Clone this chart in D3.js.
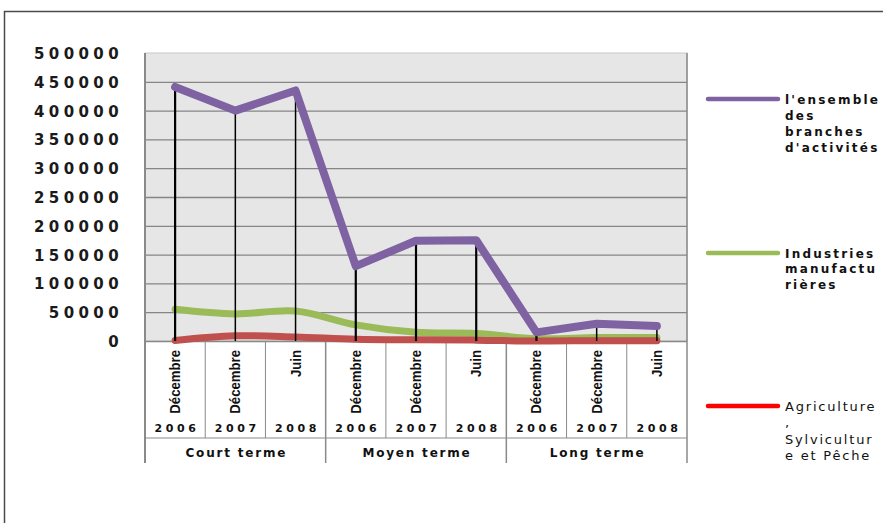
<!DOCTYPE html>
<html>
<head>
<meta charset="utf-8">
<script src="https://cdn.jsdelivr.net/npm/d3@7"></script>
<style>
  html, body { margin: 0; padding: 0; background: #fff; }
  svg { display: block; }
</style>
</head>
<body>
<svg id="chart" width="883" height="523"></svg>
<script>
// Categories: month / year / horizon
const months = ["Décembre", "Décembre", "Juin", "Décembre", "Décembre", "Juin", "Décembre", "Décembre", "Juin"];
const years = ["2006", "2007", "2008", "2006", "2007", "2008", "2006", "2007", "2008"];
const horizons = ["Court terme", "Moyen terme", "Long terme"];

// Series values
const ensemble = [441000, 400000, 435000, 130000, 174000, 175000, 15000, 30000, 26000];
const industries = [55000, 47000, 52000, 28000, 15000, 13000, 4000, 6000, 6000];
const agriculture = [1000, 9000, 7000, 3000, 2000, 1500, 0, 500, 500];

// Y tick values
const yTicks = [0, 50000, 100000, 150000, 200000, 250000, 300000, 350000, 400000, 450000, 500000];

const lowerSeries = [
  { values: industries, color: "#9bbb59", width: 7 },
  { values: agriculture, color: "#c0504d", width: 7 },
];

const svg = d3.select("#chart");
const W = 883, H = 523;
const pLeft = 145, pRight = 687, pTop = 53, pBottom = 341;

const idx = d3.range(months.length);
const x = d3.scaleBand().domain(idx).range([pLeft, pRight]);
const y = d3.scaleLinear().domain([0, 500000]).range([pBottom, pTop]);

// outer frame
svg.append("path")
  .attr("d", `M4.5,${H} V11.5 H${W}`)
  .attr("fill", "none")
  .attr("stroke", "#4a4a4a")
  .attr("stroke-width", 1.5);

// plot background
svg.append("rect")
  .attr("x", pLeft).attr("y", pTop)
  .attr("width", pRight - pLeft).attr("height", pBottom - pTop)
  .attr("fill", "#e6e6e6")
  .attr("stroke", "#c8c8c8");

// gridlines + y labels
const yAxis = d3.axisLeft(y)
  .tickValues(yTicks)
  .tickSize(-(pRight - pLeft))
  .tickPadding(0)
  .tickFormat(d3.format("d"));

const gy = svg.append("g")
  .attr("transform", `translate(${pLeft},0)`)
  .call(yAxis);
gy.select(".domain").remove();
gy.selectAll(".tick line")
  .attr("stroke", (d) => d === 500000 ? "none" : "#858585")
  .attr("stroke-width", 1.3);
gy.selectAll(".tick text")
  .attr("x", -22)
  .attr("dy", "0.36em")
  .attr("font-family", "DejaVu Sans, sans-serif")
  .attr("font-size", 15)
  .attr("font-weight", "bold")
  .attr("letter-spacing", 4.4)
  .attr("fill", "#1a1a1a");

// left / right axis lines
svg.append("line")
  .attr("x1", pLeft).attr("x2", pLeft)
  .attr("y1", pTop).attr("y2", pBottom + 122)
  .attr("stroke", "#8a8a8a").attr("stroke-width", 2);
svg.append("line")
  .attr("x1", pRight).attr("x2", pRight)
  .attr("y1", pTop).attr("y2", pBottom + 122)
  .attr("stroke", "#8a8a8a").attr("stroke-width", 1.5);

// category table separators
const bw = x.bandwidth();
idx.slice(1).forEach((i) => {
  const major = i % 3 === 0;
  svg.append("line")
    .attr("x1", x(i)).attr("x2", x(i))
    .attr("y1", pBottom).attr("y2", major ? pBottom + 122 : pBottom + 97)
    .attr("stroke", "#8a8a8a").attr("stroke-width", major ? 1.5 : 1);
});
svg.append("line")
  .attr("x1", pLeft).attr("x2", pRight)
  .attr("y1", pBottom + 0.5).attr("y2", pBottom + 0.5)
  .attr("stroke", "#8a8a8a").attr("stroke-width", 1);
svg.append("line")
  .attr("x1", pLeft).attr("x2", pRight)
  .attr("y1", pBottom + 97).attr("y2", pBottom + 97)
  .attr("stroke", "#8a8a8a").attr("stroke-width", 1);

// month labels (rotated, condensed)
svg.append("g").selectAll("text")
  .data(idx)
  .join("text")
  .attr("transform", (i) => `translate(${x(i) + bw / 2 + 5},${pBottom + 9}) rotate(-90) scale(0.85,1)`)
  .attr("text-anchor", "end")
  .attr("font-family", "Liberation Sans, Arial, sans-serif")
  .attr("font-size", 15.5)
  .attr("font-weight", "bold")
  .attr("fill", "#111")
  .text((i) => months[i]);

// year labels
svg.append("g").selectAll("text")
  .data(idx)
  .join("text")
  .attr("x", (i) => x(i) + bw / 2 + 2)
  .attr("y", pBottom + 97)
  .attr("dy", "-0.55em")
  .attr("text-anchor", "middle")
  .attr("font-family", "DejaVu Sans, sans-serif")
  .attr("font-size", 11)
  .attr("font-weight", "bold")
  .attr("letter-spacing", 3.6)
  .attr("fill", "#111")
  .text((i) => years[i]);

// horizon labels
svg.append("g").selectAll("text")
  .data(horizons)
  .join("text")
  .attr("x", (d, k) => x(k * 3) + bw * 1.5 + 1)
  .attr("y", pBottom + 116)
  .attr("text-anchor", "middle")
  .attr("font-family", "DejaVu Sans, sans-serif")
  .attr("font-size", 12)
  .attr("font-weight", "bold")
  .attr("letter-spacing", 1.8)
  .attr("fill", "#111")
  .text((d) => d);

const cx = (i) => x(i) + bw / 2;

// smoothed lower series
lowerSeries.forEach((s) => {
  const line = d3.line()
    .x((d, i) => cx(i))
    .y((d) => y(d))
    .curve(d3.curveCatmullRom.alpha(0.5));
  svg.append("path")
    .datum(s.values)
    .attr("d", line)
    .attr("fill", "none")
    .attr("stroke", s.color)
    .attr("stroke-width", s.width)
    .attr("stroke-linecap", "round")
    .attr("stroke-linejoin", "round");
});

// drop lines
svg.append("g").selectAll("line")
  .data(ensemble)
  .join("line")
  .attr("x1", (d, i) => cx(i)).attr("x2", (d, i) => cx(i))
  .attr("y1", (d) => y(d)).attr("y2", y(0))
  .attr("stroke", "#000")
  .attr("stroke-width", (d, i) => [0, 3, 4, 5, 6].includes(i) ? 2.2 : 1.5);

// main series
svg.append("path")
  .datum(ensemble)
  .attr("d", d3.line().x((d, i) => cx(i)).y((d) => y(d)))
  .attr("fill", "none")
  .attr("stroke", "#7f62a1")
  .attr("stroke-width", 8)
  .attr("stroke-linecap", "round")
  .attr("stroke-linejoin", "round");

// legend
const legend = [
  { color: "#7f62a1", y: 99, lines: ["l'ensemble", "des", "branches", "d'activités"], bold: true, gap: 16 },
  { color: "#9bbb59", y: 253, lines: ["Industries", "manufactu", "rières"], bold: true, gap: 15.5 },
  { color: "#ff0000", y: 406, lines: ["Agriculture", ",", "Sylvicultur", "e et Pêche"], bold: false, gap: 16.5 },
];
const lg = svg.append("g");
legend.forEach((l) => {
  lg.append("line")
    .attr("x1", 708).attr("x2", 778)
    .attr("y1", l.y).attr("y2", l.y)
    .attr("stroke", l.color).attr("stroke-width", 4.5)
    .attr("stroke-linecap", "round");
  const t = lg.append("text")
    .attr("x", 785)
    .attr("y", l.y + 4.5)
    .attr("font-family", "DejaVu Sans, sans-serif")
    .attr("font-size", l.bold ? 12 : 13)
    .attr("font-weight", l.bold ? "bold" : "normal")
    .attr("letter-spacing", l.bold ? 2.2 : 1.8)
    .attr("fill", "#111");
  l.lines.forEach((s, k) => {
    t.append("tspan").attr("x", 785).attr("dy", k === 0 ? 0 : l.gap).text(s);
  });
});
</script>
</body>
</html>
